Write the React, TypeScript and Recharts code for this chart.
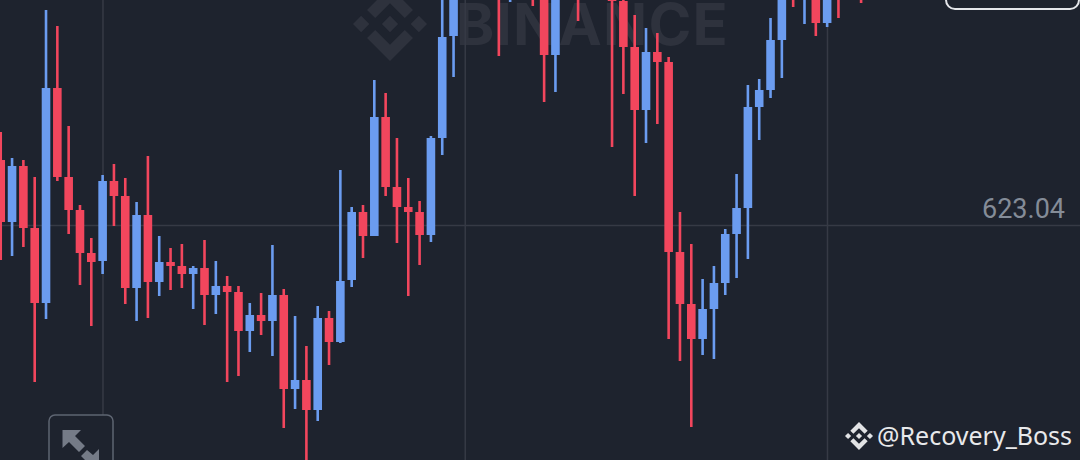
import React from "react";
import { ComposedChart, Bar, Cell, XAxis, YAxis, CartesianGrid } from "recharts";

const opens = [
  629.59, 623.39, 628.99, 622.79, 615.29, 636.79, 627.89, 624.59, 620.29, 619.49, 627.49,
  625.99, 616.79, 624.09, 617.39, 619.39, 618.99, 618.19, 618.79, 616.09, 616.99, 616.39,
  612.49, 614.09, 613.49, 616.09, 606.69, 607.59, 604.59, 613.79, 611.39, 617.59, 624.39,
  621.99, 633.89, 626.89, 624.89, 624.39, 622.09, 631.79, 641.99, 649.59, 648.59, 646.49,
  649.59, 646.39, 650.59, 649.59, 646.39, 640.09, 648.59, 650.09, 646.19, 649.69, 648.59,
  645.49, 640.89, 634.59, 640.39, 639.39, 620.39, 615.19, 611.69, 614.69, 617.29, 622.19,
  624.79, 634.89, 636.59, 641.59, 648.09, 646.09, 647.09, 643.29, 647.59, 648.09, 646.99,
];
const closes = [
  623.39, 628.99, 622.79, 615.29, 636.79, 627.89, 624.59, 620.29, 619.39, 627.49, 625.99,
  616.79, 624.09, 617.39, 619.39, 618.99, 618.19, 618.79, 616.09, 616.99, 616.39, 612.49,
  614.09, 613.49, 616.09, 606.69, 607.59, 604.59, 613.79, 611.39, 617.49, 624.39, 621.99,
  633.89, 626.89, 624.89, 624.39, 622.09, 631.79, 641.89, 646.79, 646.79, 646.49, 649.39,
  647.59, 650.59, 647.59, 646.39, 640.09, 647.59, 646.59, 646.19, 649.69, 647.19, 645.49,
  640.89, 634.59, 640.39, 639.39, 620.39, 615.19, 611.69, 614.69, 617.29, 622.19, 624.79,
  634.89, 636.59, 641.59, 646.59, 646.09, 648.59, 643.29, 647.09, 645.99, 646.59, 645.89,
];
const highs = [
  632.39, 629.79, 629.59, 627.89, 644.59, 642.99, 632.99, 625.09, 621.79, 628.09, 629.19,
  627.79, 625.39, 629.99, 621.99, 620.79, 621.19, 618.99, 621.59, 619.49, 617.99, 616.99,
  615.29, 616.29, 621.09, 616.69, 613.99, 610.99, 614.99, 614.49, 628.59, 624.89, 625.09,
  637.59, 636.29, 631.79, 627.79, 625.49, 631.99, 646.59, 648.59, 651.59, 651.09, 650.89,
  651.59, 651.39, 651.59, 651.09, 648.59, 649.09, 649.39, 650.59, 650.89, 650.39, 650.09,
  646.09, 644.09, 642.79, 642.29, 639.89, 624.39, 621.19, 617.69, 618.99, 622.69, 628.19,
  637.09, 637.69, 643.79, 648.09, 648.59, 649.59, 650.09, 649.09, 648.59, 649.09, 647.59,
];
const lows = [
  619.59, 619.99, 620.89, 607.39, 613.69, 627.49, 622.19, 617.09, 612.99, 618.19, 622.99,
  615.19, 613.49, 613.79, 615.99, 616.59, 616.79, 614.69, 613.09, 614.19, 607.39, 607.99,
  610.39, 612.09, 609.99, 602.79, 604.69, 598.59, 603.49, 609.09, 611.29, 616.89, 619.79,
  621.99, 625.99, 621.29, 615.99, 619.09, 621.39, 630.09, 637.89, 646.39, 645.79, 645.89,
  639.99, 645.39, 646.09, 644.99, 635.39, 636.39, 645.99, 643.49, 646.09, 646.29, 630.89,
  636.19, 625.99, 631.29, 633.19, 611.69, 609.49, 602.89, 610.09, 609.69, 616.09, 617.79,
  619.69, 631.59, 635.79, 637.79, 644.89, 643.19, 641.99, 642.89, 643.79, 646.09, 645.29,
];
const gridSlots = [9, 41, 73];
const gridPrices = [623.04];
const priceDomain = [599.59, 645.59];
const slotDomain = [-0.097, 95.305];

const background = "#1e232e";
const gridColor = "#363a45";
const upColor = "#6b9cf0";
const downColor = "#f2465d";

const candles = opens.map((open, slot) => ({
  slot,
  wick: [lows[slot], highs[slot]],
  body: [Math.min(open, closes[slot]), Math.max(open, closes[slot])],
  up: closes[slot] >= open,
}));

const Logo: React.FC<{ cx: number; cy: number; r: number; fill: string }> = ({ cx, cy, r, fill }) => (
  <g transform={`translate(${cx} ${cy}) scale(${r})`} fill={fill}>
    <polygon points="0,-0.22 0.22,0 0,0.22 -0.22,0" />
    <polygon points="-1,0 -0.78,-0.22 -0.56,0 -0.78,0.22" />
    <polygon points="1,0 0.78,-0.22 0.56,0 0.78,0.22" />
    <polygon points="0,-1 0.62,-0.38 0.4,-0.16 0,-0.56 -0.4,-0.16 -0.62,-0.38" />
    <polygon points="0,1 0.62,0.38 0.4,0.16 0,0.56 -0.4,0.16 -0.62,0.38" />
  </g>
);

const layer: React.CSSProperties = { position: "absolute", left: 0, top: 0 };

export default function App() {
  return (
    <div style={{ ...layer, width: 1080, height: 460, background, overflow: "hidden" }}>
      <svg width={1080} height={460} style={layer}>
        <Logo cx={390} cy={24} r={37} fill="#2e323d" />
        <text x={456} y={45} fontFamily="Inter" fontWeight={700} fontSize={58} letterSpacing={1.2} fill="#2e323d">
          BINANCE
        </text>
      </svg>
      <ComposedChart
        width={1080}
        height={460}
        data={candles}
        margin={{ top: 0, right: 0, bottom: 0, left: 0 }}
        style={layer}
      >
        <XAxis xAxisId="wick" dataKey="slot" type="number" domain={slotDomain} allowDataOverflow hide />
        <XAxis xAxisId="body" dataKey="slot" type="number" domain={slotDomain} allowDataOverflow hide />
        <YAxis domain={priceDomain} allowDataOverflow hide />
        <CartesianGrid
          xAxisId="wick"
          stroke={gridColor}
          strokeWidth={1.5}
          horizontalValues={gridPrices}
          verticalValues={gridSlots}
        />
        <Bar xAxisId="wick" dataKey="wick" barSize={2.6} isAnimationActive={false}>
          {candles.map((c) => (
            <Cell key={c.slot} fill={c.up ? upColor : downColor} />
          ))}
        </Bar>
        <Bar xAxisId="body" dataKey="body" barSize={8.6} isAnimationActive={false}>
          {candles.map((c) => (
            <Cell key={c.slot} fill={c.up ? upColor : downColor} />
          ))}
        </Bar>
      </ComposedChart>
      <svg width={1080} height={460} style={layer}>
        <rect x={946} y={-20} width={133} height={29} rx={9} fill="none" stroke="#e4e6ea" strokeWidth={2} />
        <rect x={49} y={415} width={64} height={60} rx={6} fill={background} stroke="#5e6572" strokeWidth={1.5} />
        <polygon points="62.5,430 81,430 75,436 85,446 79,452 69,442 62.5,448" fill="#757b87" />
        <polygon points="99,449 99,468 81,468 87,462 81,456 87,450 93,455" fill="#757b87" />
        <text x={1065} y={218} textAnchor="end" fontFamily="Roboto" fontSize={27} fill="#848c98">
          623.04
        </text>
        <Logo cx={859} cy={436} r={14} fill="#e2e3e5" />
        <text x={877} y={445} fontFamily="Noto Sans" fontSize={25} fill="#e8e9eb">
          @Recovery_Boss
        </text>
      </svg>
    </div>
  );
}
